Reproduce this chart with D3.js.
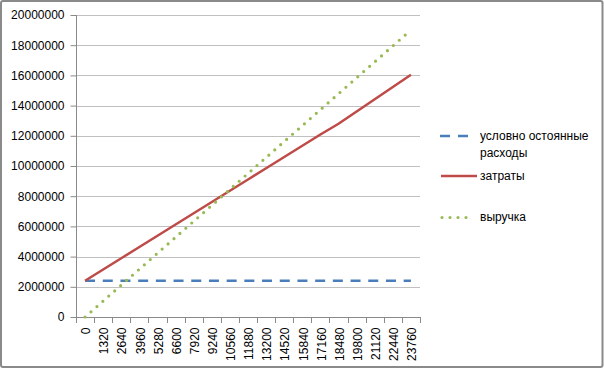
<!DOCTYPE html>
<html>
<head>
<meta charset="utf-8">
<script src="https://cdn.jsdelivr.net/npm/d3@7"></script>
<style>
  html, body { margin: 0; padding: 0; background: #fff; }
  svg { display: block; }
  text { font-family: "Liberation Sans", Arial, sans-serif; font-size: 12px; fill: #000; }
</style>
</head>
<body>
<svg id="chart" width="604" height="369"></svg>
<script>
const categories = [0, 1320, 2640, 3960, 5280, 6600, 7920, 9240, 10560, 11880, 13200, 14520, 15840, 17160, 18480, 19800, 21120, 22440, 23760];
const fixedCosts = [2400000, 2400000, 2400000, 2400000, 2400000, 2400000, 2400000, 2400000, 2400000, 2400000, 2400000, 2400000, 2400000, 2400000, 2400000, 2400000, 2400000, 2400000, 2400000];
const totalCosts = [2400000, 3145000, 3890000, 4635000, 5380000, 6125000, 6870000, 7615000, 8360000, 9105000, 9850000, 10595000, 11340000, 12085000, 12800000, 13610000, 14420000, 15230000, 16040000];
const revenue = [0, 1056000, 2112000, 3168000, 4224000, 5280000, 6336000, 7392000, 8448000, 9504000, 10560000, 11616000, 12672000, 13728000, 14784000, 15840000, 16896000, 17952000, 19008000];
const yTicks = [0, 2000000, 4000000, 6000000, 8000000, 10000000, 12000000, 14000000, 16000000, 18000000, 20000000];
const seriesNames = ["условно остоянные", "расходы", "затраты", "выручка"];

const svg = d3.select("#chart");

// chart border
svg.append("rect").attr("x", 1).attr("y", 1).attr("width", 601.5).attr("height", 366)
  .attr("rx", 2).attr("fill", "#fff").attr("stroke", "#8a8a8a").attr("stroke-width", 2);

const pLeft = 76, pRight = 420, pTop = 15, pBottom = 317;
const x = d3.scaleBand().domain(categories).range([pLeft, pRight]).padding(0);
const y = d3.scaleLinear().domain([0, 20000000]).range([pBottom, pTop]);
const cx = d => x(d) + x.bandwidth() / 2;

// gridlines
svg.append("g").selectAll("line").data(yTicks.slice(1)).join("line")
  .attr("x1", pLeft).attr("x2", pRight)
  .attr("y1", d => Math.round(y(d)) + 0.5).attr("y2", d => Math.round(y(d)) + 0.5)
  .attr("stroke", "#c0c0c0").attr("stroke-width", 1);

// y axis
const yAxis = d3.axisLeft(y).tickValues(yTicks).tickFormat(d3.format("d")).tickSize(6).tickPadding(6);
const gy = svg.append("g").attr("transform", `translate(${pLeft + 0.5},0)`).call(yAxis);
gy.select(".domain").attr("stroke", "#8a8a8a").attr("d", `M0,${pTop}V${pBottom}`);
gy.selectAll(".tick line").attr("stroke", "#8a8a8a");
gy.selectAll(".tick text").style("font-size", "12px").style("font-family", "Liberation Sans, Arial, sans-serif").attr("fill", "#000");

// x axis
const xAxis = d3.axisBottom(x).tickSize(0).tickPadding(0);
const gx = svg.append("g").attr("transform", `translate(0,${pBottom + 0.5})`).call(xAxis);
gx.select(".domain").attr("stroke", "#8a8a8a").attr("d", `M${pLeft},0H${pRight}`);
gx.selectAll(".tick text")
  .style("font-size", "12px").style("font-family", "Liberation Sans, Arial, sans-serif").attr("fill", "#000")
  .attr("transform", "rotate(-90)")
  .attr("x", -10).attr("y", 1).attr("dy", "0.35em")
  .attr("text-anchor", "end");
// tick marks between categories
svg.append("g").selectAll("line").data(categories.concat(["end"])).join("line")
  .attr("x1", (d, i) => Math.round(pLeft + i * x.bandwidth()) + 0.5)
  .attr("x2", (d, i) => Math.round(pLeft + i * x.bandwidth()) + 0.5)
  .attr("y1", pBottom).attr("y2", pBottom + 6)
  .attr("stroke", "#8a8a8a");

const line = vals => d3.line().x((d, i) => cx(categories[i])).y(d => y(d))(vals);

// fixed costs (dashed blue)
svg.append("path").attr("d", line(fixedCosts)).attr("fill", "none")
  .attr("stroke", "#4a7ebb").attr("stroke-width", 2.5).attr("stroke-dasharray", "10,7.7");
// total costs (red)
svg.append("path").attr("d", line(totalCosts)).attr("fill", "none")
  .attr("stroke", "#be4b48").attr("stroke-width", 2.5);
// revenue (green dotted)
svg.append("path").attr("d", line(revenue)).attr("fill", "none")
  .attr("stroke", "#98b954").attr("stroke-width", 3.2).attr("stroke-linecap", "round")
  .attr("stroke-dasharray", "0,7.9");

// legend
const lg = svg.append("g");
lg.append("line").attr("x1", 440).attr("x2", 469).attr("y1", 136).attr("y2", 136)
  .attr("stroke", "#4a7ebb").attr("stroke-width", 2.5).attr("stroke-dasharray", "10,8");
lg.append("text").attr("x", 480).attr("y", 136).attr("dy", "0.35em").text(seriesNames[0]);
lg.append("text").attr("x", 480).attr("y", 153).attr("dy", "0.35em").text(seriesNames[1]);
lg.append("line").attr("x1", 441).attr("x2", 477).attr("y1", 176).attr("y2", 176)
  .attr("stroke", "#be4b48").attr("stroke-width", 2.5);
lg.append("text").attr("x", 480).attr("y", 176).attr("dy", "0.35em").text(seriesNames[2]);
lg.append("line").attr("x1", 442).attr("x2", 474).attr("y1", 217.5).attr("y2", 217.5)
  .attr("stroke", "#98b954").attr("stroke-width", 3.2).attr("stroke-linecap", "round")
  .attr("stroke-dasharray", "0,8");
lg.append("text").attr("x", 480).attr("y", 217).attr("dy", "0.35em").text(seriesNames[3]);
</script>
</body>
</html>
